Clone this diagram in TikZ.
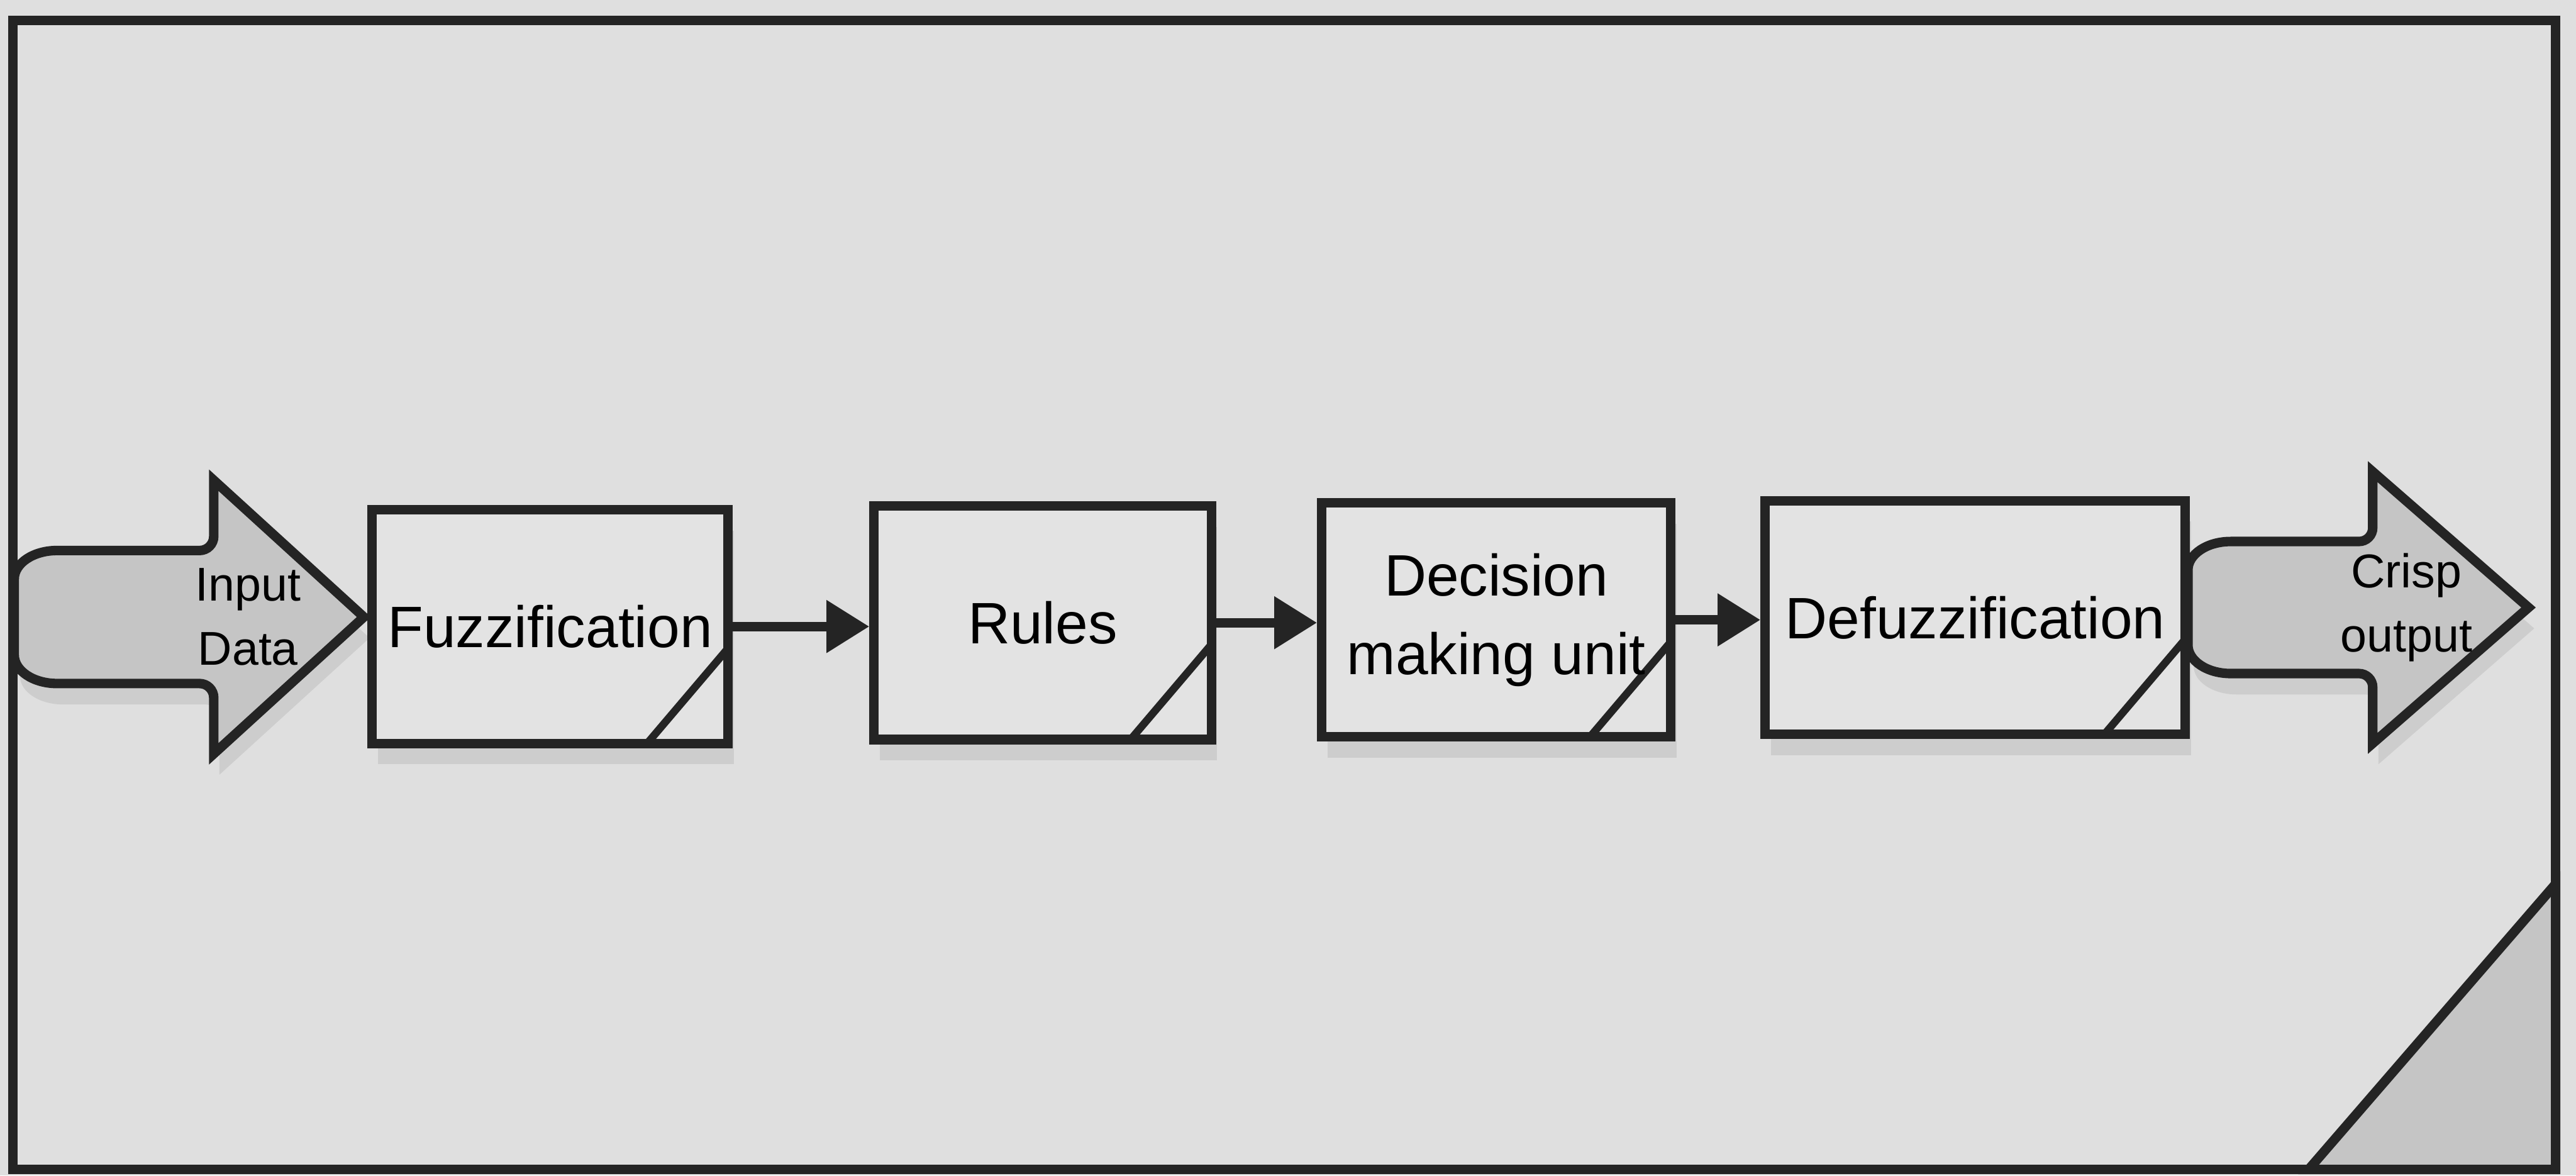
\documentclass[tikz,border=0pt]{standalone}
\usepackage{fontspec}
\setmainfont{Liberation Sans}
\usetikzlibrary{arrows.meta,shadows}
\definecolor{paper}{RGB}{223,223,223}
\definecolor{boxfill}{RGB}{227,227,227}
\definecolor{arrfill}{RGB}{197,197,197}
\definecolor{ink}{RGB}{36,36,36}
\begin{document}
\begin{tikzpicture}[
        boxn/.style={draw=ink, fill=boxfill, line width=0.1cm, rectangle, minimum height=2.46cm,
            align=center, font=\fontsize{17.5}{23.5}\selectfont,
            drop shadow={shadow xshift=0.06cm, shadow yshift=-0.22cm, fill=black, opacity=0.08},
            path picture={\draw[ink, line width=0.08cm]
                ([xshift=-0.85cm]path picture bounding box.south east) --
                ([yshift=1cm]path picture bounding box.south east);}},
        fatarr/.style={draw=ink, fill=arrfill, line width=0.1cm,
            drop shadow={shadow xshift=0.06cm, shadow yshift=-0.22cm, fill=black, opacity=0.08}},
        flow/.style={draw=ink, line width=0.1cm, -{Triangle[length=0.45cm, width=0.53cm]}},
        lbl/.style={align=center, font=\fontsize{14.2}{19.3}\selectfont, inner sep=0pt},
    ]
    \useasboundingbox (0,0) rectangle (27.115,12.375);
    \fill[paper] (0,0) rectangle (27.115,12.375);
    % frame and corner
    \draw[ink, line width=0.1cm] (0.135,0.065) rectangle (26.9,12.16);
    \filldraw[fill=arrfill, draw=ink, line width=0.1cm] (24.3,0.065) -- (26.9,3.07) -- (26.9,0.065) -- cycle;

    % input and output arrows
    \draw[fatarr] (0.15,5.88) -- (0.15,6.28) arc[start angle=180, end angle=90, x radius=0.45, y radius=0.3]
        -- (2.1,6.58) to[out=0,in=-90] (2.25,6.73) -- (2.25,7.32) -- (3.83,5.88) -- (2.25,4.44)
        -- (2.25,5.03) to[out=90,in=0] (2.1,5.18) -- (0.6,5.18)
        arc[start angle=270, end angle=180, x radius=0.45, y radius=0.3] -- cycle;
    \draw[fatarr] (23.03,5.98) -- (23.03,6.375) arc[start angle=180, end angle=90, x radius=0.45, y radius=0.3]
        -- (24.83,6.675) to[out=0,in=-90] (24.975,6.82) -- (24.975,7.41) -- (26.615,5.98) -- (24.975,4.55)
        -- (24.975,5.14) to[out=90,in=0] (24.83,5.285) -- (23.48,5.285)
        arc[start angle=270, end angle=180, x radius=0.45, y radius=0.3] -- cycle;
    \node[lbl](indata) at (2.61,5.88) {Input\\Data};
    \node[lbl](crisp) at (25.33,5.98) {Crisp\\output};

    % blocks
    \node[boxn, minimum width=3.745cm](fuzz) at (5.79,5.78) {Fuzzification};
    \node[boxn, minimum width=3.55cm](rules) at (10.975,5.82) {Rules};
    \node[boxn, minimum width=3.675cm](decision) at (15.75,5.85) {Decision\\making unit};
    \node[boxn, minimum width=4.42cm](defuzz) at (20.79,5.875) {Defuzzification};

    \draw[flow] (fuzz.east) -- (fuzz.east -| rules.west);
    \draw[flow] (rules.east) -- (rules.east -| decision.west);
    \draw[flow] (decision.east) -- (decision.east -| defuzz.west);
\end{tikzpicture}
\end{document}
